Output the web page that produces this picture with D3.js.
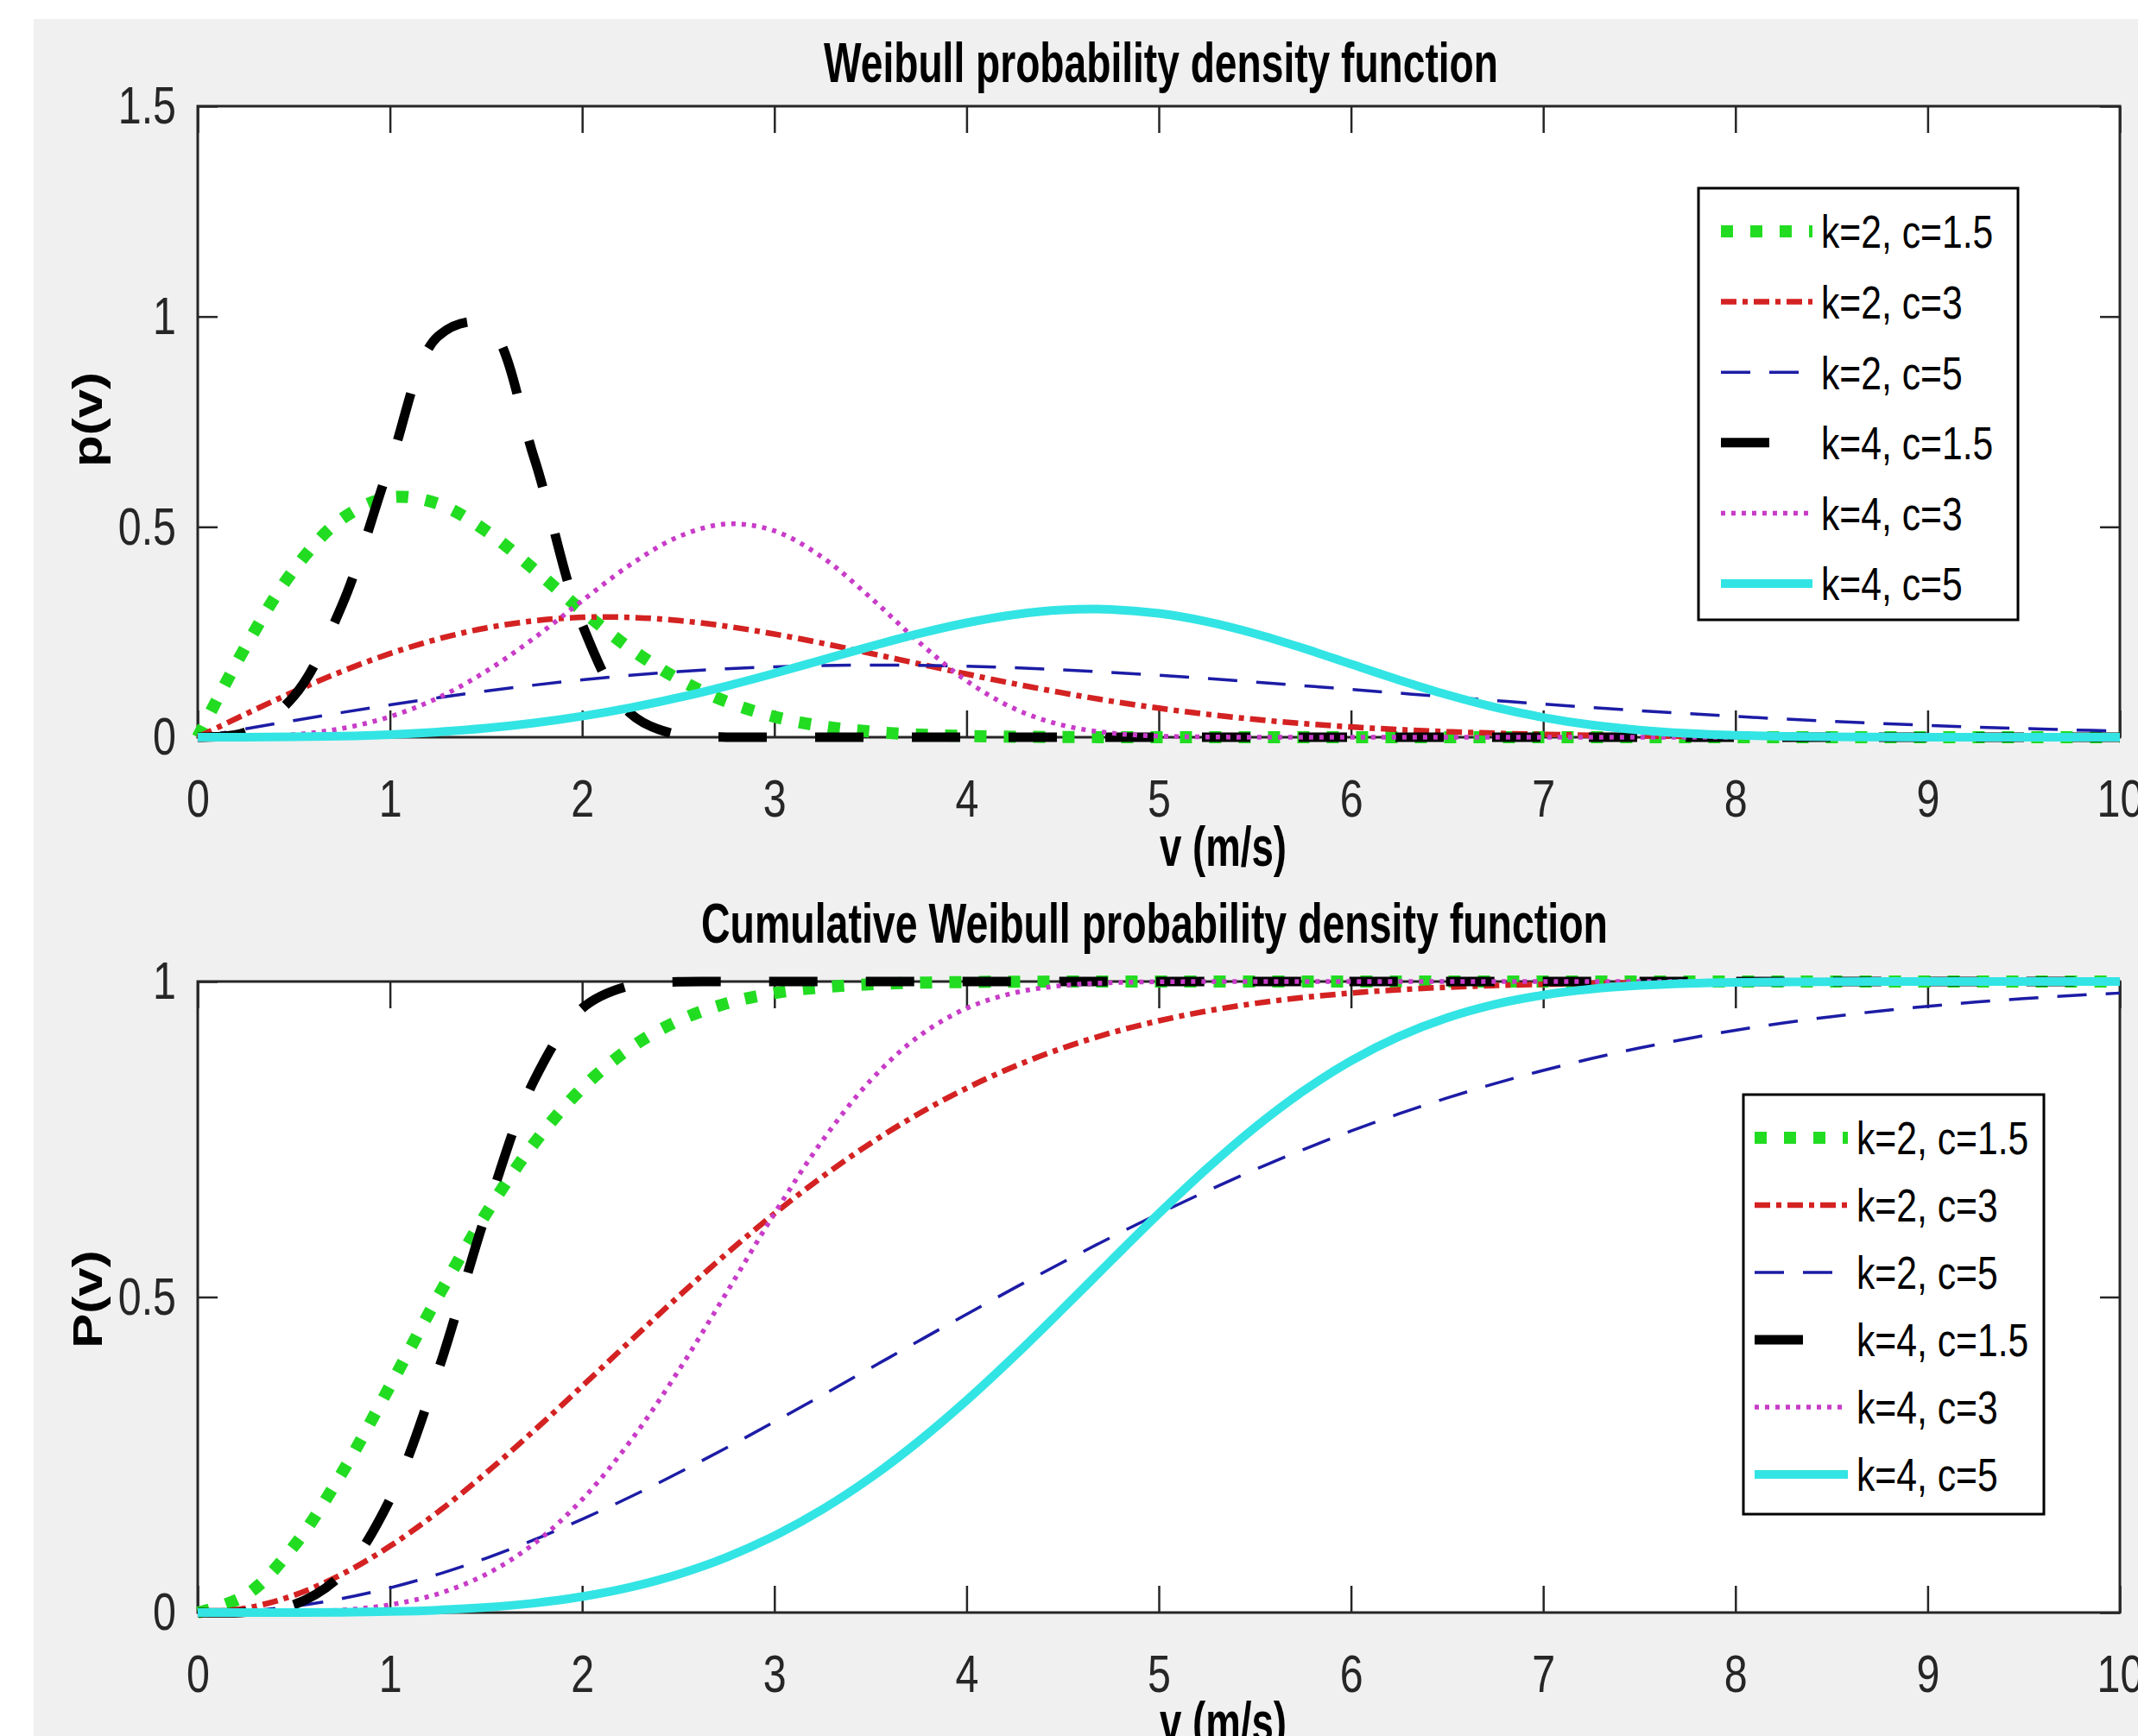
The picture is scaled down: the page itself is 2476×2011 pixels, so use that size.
<!DOCTYPE html>
<html><head><meta charset="utf-8">
<script src="https://cdn.jsdelivr.net/npm/d3@7"></script>
<style>html,body{margin:0;padding:0;background:#fff;} svg{display:block;}</style>
</head><body><svg id="chart" width="2476" height="2011"></svg>
<script>
// ---------- data ----------
const speeds = [0,0.25,0.5,0.75,1,1.25,1.5,1.75,2,2.25,2.5,2.75,3,3.25,3.5,3.75,4,4.25,4.5,4.75,5,
  5.25,5.5,5.75,6,6.25,6.5,6.75,7,7.25,7.5,7.75,8,8.25,8.5,8.75,9,9.25,9.5,9.75,10];

const seriesLabels = ["k=2, c=1.5","k=2, c=3","k=2, c=5","k=4, c=1.5","k=4, c=3","k=4, c=5"];

// probability density p(v)
const pdfK2C15 = [0,0.2161,0.3977,0.5192,0.5700,0.5549,0.4905,0.3988,0.3005,0.2108,0.1382,0.0848,0.0488,0.0264,0.0134,0.0064,0.0029,0.0012,0.0005,0.0002,0.0001,
  0,0,0,0,0,0,0,0,0,0,0,0,0,0,0,0,0,0,0,0];
const pdfK2C3 = [0,0.0552,0.1081,0.1565,0.1988,0.2335,0.2596,0.2767,0.2850,0.2849,0.2774,0.2638,0.2453,0.2234,0.1994,0.1747,0.1502,0.1269,0.1054,0.0860,0.0691,
  0.0546,0.0424,0.0325,0.0244,0.0181,0.0132,0.0095,0.0067,0.0047,0.0032,0.0022,0.0014,0.0010,0.0006,0.0004,0.0003,0.0002,0.0001,0.0001,0.0000];
const pdfK2C5 = [0,0.0200,0.0396,0.0587,0.0769,0.0939,0.1097,0.1239,0.1363,0.1470,0.1558,0.1626,0.1674,0.1704,0.1715,0.1709,0.1687,0.1651,0.1602,0.1541,0.1472,
  0.1395,0.1312,0.1226,0.1137,0.1048,0.0959,0.0873,0.0789,0.0708,0.0632,0.0561,0.0495,0.0434,0.0378,0.0328,0.0282,0.0241,0.0206,0.0174,0.0147];
const pdfK4C15 = [0,0.0123,0.0975,0.3131,0.6485,0.9528,0.9810,0.6640,0.2681,0.0570,0.0055,0.0002,0,0,0,0,0,0,0,0,0,
  0,0,0,0,0,0,0,0,0,0,0,0,0,0,0,0,0,0,0,0];
const pdfK4C3 = [0,0.0008,0.0062,0.0208,0.0488,0.0936,0.1566,0.2357,0.3243,0.4099,0.4764,0.5069,0.4905,0.4275,0.3320,0.2268,0.1340,0.0675,0.0285,0.0099,0.0027,
  0.0006,0.0001,0,0,0,0,0,0,0,0,0,0,0,0,0,0,0,0,0,0];
const pdfK4C5 = [0,0.0001,0.0008,0.0027,0.0064,0.0125,0.0214,0.0338,0.0499,0.0700,0.0939,0.1215,0.1518,0.1838,0.2158,0.2460,0.2719,0.2915,0.3026,0.3038,0.2943,
  0.2747,0.2463,0.2117,0.1738,0.1361,0.1011,0.0711,0.0471,0.0293,0.0171,0.0093,0.0047,0.0022,0.0009,0.0004,0.0001,0,0,0,0];

// cumulative P(v)
const cdfK2C15 = [0,0.0274,0.1052,0.2212,0.3588,0.5006,0.6321,0.7436,0.8310,0.8946,0.9378,0.9653,0.9817,0.9909,0.9957,0.9981,0.9992,0.9997,0.9999,1,1,
  1,1,1,1,1,1,1,1,1,1,1,1,1,1,1,1,1,1,1,1];
const cdfK2C3 = [0,0.0069,0.0274,0.0606,0.1052,0.1594,0.2212,0.2884,0.3588,0.4302,0.5006,0.5684,0.6321,0.6907,0.7436,0.7904,0.8310,0.8656,0.8946,0.9185,0.9378,
  0.9532,0.9653,0.9746,0.9817,0.9870,0.9909,0.9937,0.9957,0.9971,0.9981,0.9987,0.9992,0.9995,0.9997,0.9998,0.9999,0.9999,1,1,1];
const cdfK2C5 = [0,0.0025,0.0100,0.0222,0.0392,0.0606,0.0861,0.1153,0.1479,0.1833,0.2212,0.2610,0.3023,0.3446,0.3874,0.4302,0.4727,0.5145,0.5551,0.5944,0.6321,
  0.6679,0.7018,0.7335,0.7631,0.7904,0.8155,0.8384,0.8591,0.8779,0.8946,0.9095,0.9227,0.9343,0.9444,0.9532,0.9608,0.9674,0.9729,0.9777,0.9817];
const cdfK4C15 = [0,0.0008,0.0123,0.0606,0.1792,0.3826,0.6321,0.8432,0.9576,0.9937,0.9996,1,1,1,1,1,1,1,1,1,1,
  1,1,1,1,1,1,1,1,1,1,1,1,1,1,1,1,1,1,1,1];
const cdfK4C3 = [0,0,0.0008,0.0039,0.0123,0.0297,0.0606,0.1093,0.1792,0.2712,0.3826,0.5064,0.6321,0.7478,0.8432,0.9129,0.9576,0.9822,0.9937,0.9981,0.9996,
  0.9999,1,1,1,1,1,1,1,1,1,1,1,1,1,1,1,1,1,1,1];
const cdfK4C5 = [0,0,0.0001,0.0005,0.0016,0.0039,0.0081,0.0149,0.0253,0.0402,0.0606,0.0874,0.1216,0.1635,0.2134,0.2712,0.3361,0.4067,0.4811,0.5571,0.6321,
  0.7034,0.7687,0.8260,0.8743,0.9129,0.9425,0.9639,0.9785,0.9880,0.9937,0.9969,0.9986,0.9994,0.9998,0.9999,1,1,1,1,1];

const xTicks = [0,1,2,3,4,5,6,7,8,9,10];
const xTickLabels = ["0","1","2","3","4","5","6","7","8","9","10"];
const yTicksPdf = [0,0.5,1,1.5];
const yTickLabelsPdf = ["0","0.5","1","1.5"];
const yTicksCdf = [0,0.5,1];
const yTickLabelsCdf = ["0","0.5","1"];

// ---------- styles ----------
const lineStyles = [
  {color:"#22dc22", width:14, dash:"14,20"},
  {color:"#d42222", width:6.5, dash:"18,7,6,7"},
  {color:"#1c1ca6", width:3.5, dash:"34,22"},
  {color:"#000000", width:11, dash:"56,56"},
  {color:"#c83cc8", width:5.5, dash:"5,7"},
  {color:"#33e4e4", width:10, dash:null}
];
const SANS = "'Liberation Sans',Arial,Helvetica,sans-serif";
const TICK_COLOR = "#262626";

// condense text horizontally (the figure's lettering is narrow)
function condense(sel, f){
  sel.each(function(){
    const L = this.getComputedTextLength();
    d3.select(this).attr("textLength", L*f).attr("lengthAdjust","spacingAndGlyphs");
  });
}

const svg = d3.select("#chart");
svg.append("rect").attr("x",0).attr("y",0).attr("width",2476).attr("height",2011).attr("fill","#ffffff");
svg.append("rect").attr("x",39).attr("y",22).attr("width",2476-39).attr("height",2011-22).attr("fill","#f0f0f0");

function drawPanel(cfg){
  const x = d3.scaleLinear().domain([0,10]).range([229,2455]);
  const y = d3.scaleLinear().domain(cfg.yDomain).range([cfg.bottom, cfg.top]);
  const g = svg.append("g");

  g.append("rect").attr("x",x(0)).attr("y",y(cfg.yDomain[1]))
    .attr("width",x(10)-x(0)).attr("height",y(cfg.yDomain[0])-y(cfg.yDomain[1]))
    .attr("fill","#ffffff");

  const styleAxis = (sel) => {
    sel.select(".domain").remove();
    sel.selectAll(".tick line").attr("stroke",TICK_COLOR).attr("stroke-width",2.5);
    const t = sel.selectAll(".tick text").attr("font-family",SANS).attr("font-size",62).attr("fill",TICK_COLOR);
    condense(t, 0.78);
  };

  const gb = g.append("g").attr("transform",`translate(0,${y(cfg.yDomain[0])})`)
    .call(d3.axisBottom(x).tickValues(xTicks).tickFormat((d,i)=>xTickLabels[i])
      .tickSizeInner(-31).tickSizeOuter(0).tickPadding(48));
  styleAxis(gb);
  const gt = g.append("g").attr("transform",`translate(0,${y(cfg.yDomain[1])})`)
    .call(d3.axisTop(x).tickValues(xTicks).tickFormat(()=>"").tickSizeInner(-31).tickSizeOuter(0));
  gt.select(".domain").remove();
  gt.selectAll(".tick line").attr("stroke",TICK_COLOR).attr("stroke-width",2.5);
  gt.selectAll(".tick text").remove();
  const gl = g.append("g").attr("transform",`translate(${x(0)},0)`)
    .call(d3.axisLeft(y).tickValues(cfg.yTicks).tickFormat((d,i)=>cfg.yTickLabels[i])
      .tickSizeInner(-23).tickSizeOuter(0).tickPadding(25));
  styleAxis(gl);
  const gr = g.append("g").attr("transform",`translate(${x(10)},0)`)
    .call(d3.axisRight(y).tickValues(cfg.yTicks).tickFormat(()=>"").tickSizeInner(-23).tickSizeOuter(0));
  gr.select(".domain").remove();
  gr.selectAll(".tick line").attr("stroke",TICK_COLOR).attr("stroke-width",2.5);
  gr.selectAll(".tick text").remove();

  g.append("rect").attr("x",x(0)).attr("y",y(cfg.yDomain[1]))
    .attr("width",x(10)-x(0)).attr("height",y(cfg.yDomain[0])-y(cfg.yDomain[1]))
    .attr("fill","none").attr("stroke",TICK_COLOR).attr("stroke-width",3);

  const line = d3.line().x((d,i)=>x(speeds[i])).y(d=>y(d)).curve(d3.curveCatmullRom.alpha(0.5));
  cfg.series.forEach((vals,si)=>{
    const st = lineStyles[si];
    g.append("path").attr("d",line(vals)).attr("fill","none")
      .attr("stroke",st.color).attr("stroke-width",st.width)
      .attr("stroke-dasharray",st.dash).attr("stroke-linecap","butt").attr("stroke-linejoin","round");
  });

  g.append("text").attr("x",cfg.titleX).attr("y",cfg.titleY).text(cfg.title)
    .attr("font-family",SANS).attr("font-weight","bold").attr("font-size",65).attr("fill","#000")
    .attr("textLength",cfg.titleLen).attr("lengthAdjust","spacingAndGlyphs");
  g.append("text").attr("x",1343).attr("y",cfg.xLabelY).text("v (m/s)")
    .attr("font-family",SANS).attr("font-weight","bold").attr("font-size",64).attr("fill","#000")
    .attr("textLength",147).attr("lengthAdjust","spacingAndGlyphs");
  g.append("text").attr("transform",`translate(118,${cfg.yLabelY}) rotate(-90) scale(1,0.8)`)
    .attr("text-anchor","middle").text(cfg.yLabel)
    .attr("font-family",SANS).attr("font-weight","bold").attr("font-size",60).attr("fill","#000");

  const L = cfg.legend;
  const lg = g.append("g");
  lg.append("rect").attr("x",L.x).attr("y",L.y).attr("width",L.w).attr("height",L.h)
    .attr("fill","#ffffff").attr("stroke","#000").attr("stroke-width",3);
  seriesLabels.forEach((lab,si)=>{
    const st = lineStyles[si];
    const yy = L.firstY + si*L.step;
    lg.append("line").attr("x1",L.sx1).attr("x2",L.sx2).attr("y1",yy).attr("y2",yy)
      .attr("stroke",st.color).attr("stroke-width",st.width).attr("stroke-dasharray",st.dash);
    const t = lg.append("text").attr("x",L.tx).attr("y",yy).attr("dy","0.36em").text(lab)
      .attr("font-family",SANS).attr("font-size",54).attr("fill","#000");
    condense(t, 0.79);
  });
}

drawPanel({
  yDomain:[0,1.5], top:123, bottom:854,
  yTicks:yTicksPdf, yTickLabels:yTickLabelsPdf,
  series:[pdfK2C15,pdfK2C3,pdfK2C5,pdfK4C15,pdfK4C3,pdfK4C5],
  title:"Weibull probability density function", titleX:954, titleY:95, titleLen:781,
  xLabelY:1003, yLabel:"p(v)", yLabelY:486,
  legend:{x:1967,y:218,w:370,h:500,firstY:268,step:81.6,sx1:1993,sx2:2099,tx:2109}
});
drawPanel({
  yDomain:[0,1], top:1137, bottom:1868,
  yTicks:yTicksCdf, yTickLabels:yTickLabelsCdf,
  series:[cdfK2C15,cdfK2C3,cdfK2C5,cdfK4C15,cdfK4C3,cdfK4C5],
  title:"Cumulative Weibull probability density function", titleX:812, titleY:1092, titleLen:1050,
  xLabelY:2017, yLabel:"P(v)", yLabelY:1505,
  legend:{x:2019,y:1268,w:348,h:486,firstY:1318,step:78,sx1:2032,sx2:2140,tx:2150}
});
</script></body></html>
